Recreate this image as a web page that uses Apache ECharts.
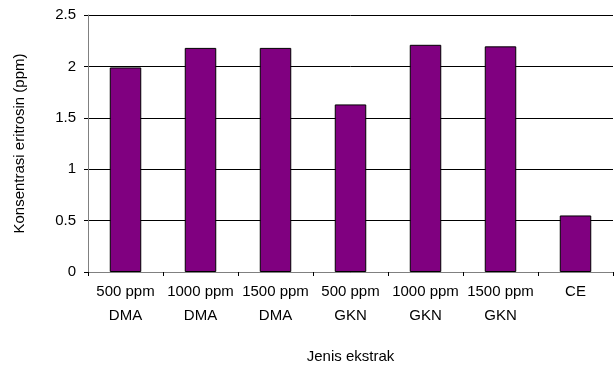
<!DOCTYPE html>
<html><head><meta charset="utf-8">
<script src="https://cdn.jsdelivr.net/npm/echarts@6/dist/echarts.min.js"></script>
<style>html,body{margin:0;padding:0;background:#fff}#c{width:614px;height:369px}</style>
</head><body><div id="c"></div>
<script>
var categories = ['500 ppm\nDMA','1000 ppm\nDMA','1500 ppm\nDMA','500 ppm\nGKN','1000 ppm\nGKN','1500 ppm\nGKN','CE'];
var values = [1.99, 2.18, 2.18, 1.63, 2.21, 2.195, 0.55];
var yMin = 0, yMax = 2.5, yStep = 0.5;
var font = 'Liberation Sans, Arial, sans-serif';
var chart = echarts.init(document.getElementById('c'));
chart.setOption({
  animation:false,
  grid:{left:88,right:1,top:15,bottom:94,containLabel:false},
  xAxis:{type:'category',data:categories,
    name:'Jenis ekstrak',nameLocation:'middle',nameGap:77,
    nameTextStyle:{fontFamily:font,fontSize:15,color:'#000'},
    axisLine:{lineStyle:{color:'#808080',width:1}},
    axisTick:{show:true,length:4,lineStyle:{color:'#000'}},
    axisLabel:{fontFamily:font,fontSize:15,color:'#000',lineHeight:24,margin:8,interval:0}
  },
  yAxis:{type:'value',min:yMin,max:yMax,interval:yStep,
    name:'Konsentrasi eritrosin (ppm)',nameLocation:'middle',nameGap:61,
    nameTextStyle:{fontFamily:font,fontSize:15,color:'#000'},
    axisLine:{show:true,lineStyle:{color:'#808080',width:1}},
    axisTick:{show:true,length:4,lineStyle:{color:'#000'}},
    axisLabel:{fontFamily:font,fontSize:15,color:'#000',margin:12,formatter:function(v){return String(v);}},
    splitLine:{show:true,lineStyle:{color:'#000',width:1}}
  },
  series:[{type:'bar',data:values,barWidth:'42%',
    itemStyle:{color:'#800080',borderColor:'#000',borderWidth:1}}]
});
</script></body></html>
